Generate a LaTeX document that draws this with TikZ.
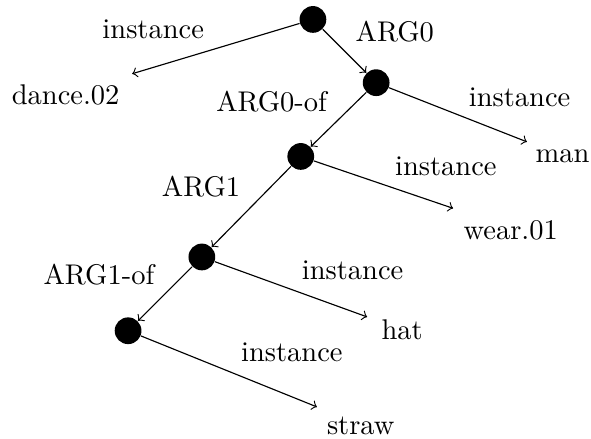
\documentclass[tikz,border=0pt]{standalone}
\usetikzlibrary{positioning}

\begin{document}
\begin{tikzpicture}[
    var/.style={circle, fill=black, inner sep=0pt, minimum size=0.33cm},
    rel/.style={anchor=base},
    concept/.style={anchor=base},
    arrow/.style={->}
]
\useasboundingbox (0,0) rectangle (7.29,5.41);

% Variables
\node[var] (vd) at (3.86,5.17) {};
\node[var] (vm) at (4.64,4.39) {};
\node[var] (vw) at (3.71,3.48) {};
\node[var] (vh) at (2.49,2.24) {};
\node[var] (vs) at (1.58,1.33) {};

% Arrow ends for the instance edges
\coordinate (td) at (1.63,4.50);
\coordinate (tm) at (6.50,3.66);
\coordinate (tw) at (5.59,2.84);
\coordinate (th) at (4.53,1.50);
\coordinate (ts) at (3.91,0.39);

% Concepts
\node[concept] (cd) at (0.81,4.12) {dance.02};
\node[concept] (cm) at (6.94,3.40) {man};
\node[concept] (cw) at (6.30,2.45) {wear.01};
\node[concept] (ch) at (4.96,1.22) {hat};
\node[concept] (cs) at (4.45,0.05) {straw};

% Edges
\draw[arrow] (vd) -- (td);
\draw[arrow] (vd) -- (vm);
\draw[arrow] (vm) -- (tm);
\draw[arrow] (vm) -- (vw);
\draw[arrow] (vw) -- (tw);
\draw[arrow] (vw) -- (vh);
\draw[arrow] (vh) -- (th);
\draw[arrow] (vh) -- (vs);
\draw[arrow] (vs) -- (ts);

% Relation labels
\node[rel] at (1.89,4.94) {instance};
\node[rel] at (4.87,4.90) {ARG0};
\node[rel] at (3.35,4.03) {ARG0-of};
\node[rel] at (6.41,4.09) {instance};
\node[rel] at (5.50,3.24) {instance};
\node[rel] at (2.48,2.98) {ARG1};
\node[rel] at (1.22,1.90) {ARG1-of};
\node[rel] at (4.35,1.96) {instance};
\node[rel] at (3.60,0.95) {instance};

\end{tikzpicture}
\end{document}
